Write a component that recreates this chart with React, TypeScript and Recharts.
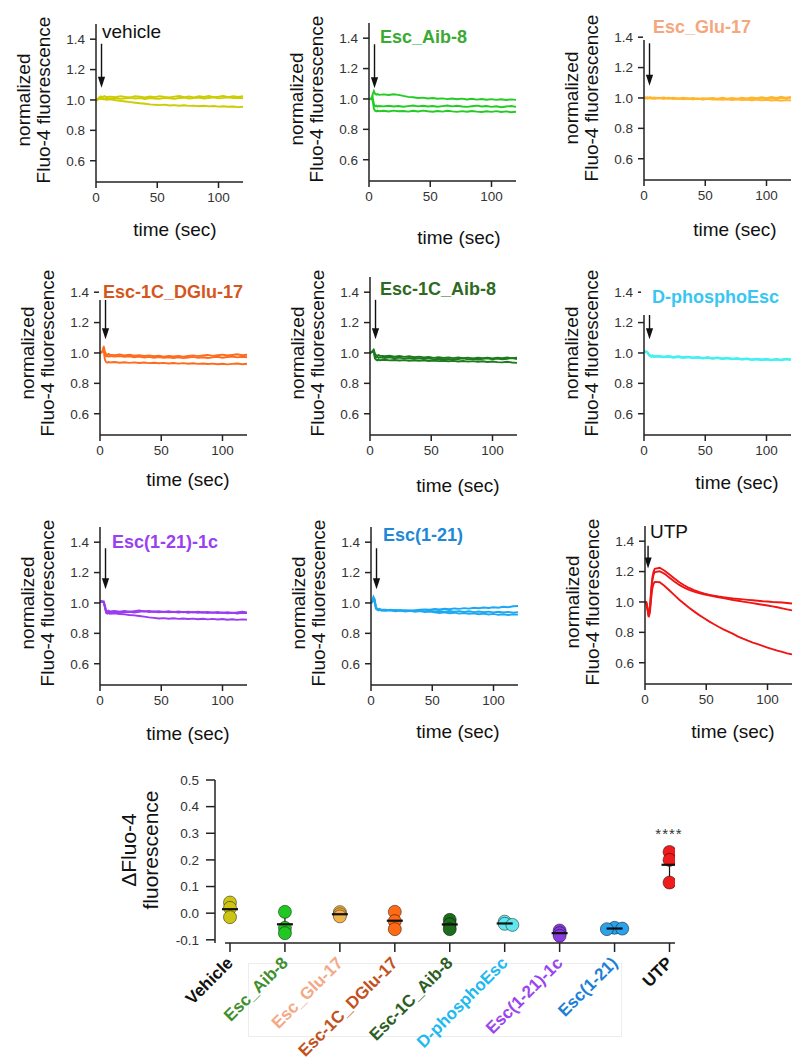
import React from "react";
import {
  LineChart,
  Line,
  XAxis,
  YAxis,
  ReferenceLine,
  ScatterChart,
  Scatter,
  ErrorBar,
} from "recharts";

// shared time base of every trace (sec)
const TIME = [
  0, 1, 2, 3, 4, 5, 6, 7, 8,
  12, 16, 20, 24, 28, 32, 36,
  40, 44, 48, 52, 56, 60, 64,
  68, 72, 76, 80, 84, 88, 92,
  96, 100, 104, 108, 112, 116, 120,
];

const VEHICLE_A = [
  1.0, 1.004, 1.012, 1.02, 1.024, 1.018, 1.022, 1.026, 1.02,
  1.022, 1.018, 1.025, 1.02, 1.016, 1.024, 1.021,
  1.017, 1.023, 1.019, 1.025, 1.02, 1.016, 1.022,
  1.026, 1.019, 1.023, 1.017, 1.024, 1.02, 1.026,
  1.018, 1.022, 1.027, 1.019, 1.024, 1.02, 1.025,
];
const VEHICLE_B = [
  1.0, 0.998, 1.006, 1.012, 1.008, 1.014, 1.01, 1.006, 1.012,
  1.008, 1.013, 1.007, 1.011, 1.015, 1.009, 1.012,
  1.006, 1.013, 1.01, 1.008, 1.014, 1.011, 1.007,
  1.013, 1.015, 1.009, 1.012, 1.016, 1.01, 1.013,
  1.017, 1.011, 1.014, 1.018, 1.012, 1.015, 1.011,
];
const VEHICLE_C = [
  1.0, 1.003, 1.008, 1.012, 1.006, 1.01, 1.004, 1.008, 1.002,
  1.004, 0.998, 0.994, 0.99, 0.986, 0.982, 0.978,
  0.975, 0.971, 0.968, 0.966, 0.969, 0.964, 0.966,
  0.962, 0.965, 0.961, 0.963, 0.959, 0.962, 0.958,
  0.96, 0.956, 0.959, 0.955, 0.957, 0.953, 0.955,
];

const AIB8_A = [
  1.0, 1.002, 1.0, 1.03, 1.052, 1.034, 1.028, 1.032, 1.027,
  1.03, 1.026, 1.031, 1.027, 1.02, 1.014, 1.011,
  1.006, 1.009, 1.003, 1.006, 1.001, 1.004, 0.999,
  1.003, 0.998, 1.002, 0.997, 1.001, 0.996, 1.0,
  0.995, 0.999, 0.994, 0.998, 0.993, 0.997, 0.994,
];
const AIB8_B = [
  1.0, 1.001, 0.999, 1.01, 0.965, 0.952, 0.956, 0.95, 0.954,
  0.951, 0.955, 0.95, 0.954, 0.949, 0.953, 0.957,
  0.951, 0.955, 0.95, 0.954, 0.949, 0.953, 0.957,
  0.951, 0.955, 0.95, 0.948, 0.952, 0.956, 0.95,
  0.954, 0.948, 0.952, 0.946, 0.95, 0.954, 0.948,
];
const AIB8_C = [
  1.0, 0.999, 1.001, 0.99, 0.935, 0.922, 0.918, 0.923, 0.919,
  0.922, 0.918, 0.923, 0.919, 0.921, 0.917, 0.922,
  0.918, 0.923, 0.919, 0.916, 0.921, 0.917, 0.922,
  0.918, 0.915, 0.92, 0.916, 0.921, 0.917, 0.914,
  0.919, 0.915, 0.92, 0.914, 0.918, 0.913, 0.916,
];

const GLU17_A = [
  1.0, 1.004, 0.998, 1.003, 0.999, 1.005, 1.0, 0.997, 1.003,
  0.998, 1.003, 0.997, 1.002, 0.996, 1.001, 0.995,
  1.0, 0.994, 0.999, 0.995, 1.0, 0.996, 1.001,
  0.995, 1.0, 0.996, 1.002, 0.997, 1.003, 0.998,
  1.005, 0.999, 1.006, 1.0, 1.008, 1.001, 1.006,
];
const GLU17_B = [
  1.0, 0.997, 1.002, 0.996, 1.001, 0.997, 1.002, 0.998, 0.994,
  0.999, 0.994, 0.998, 0.993, 0.997, 0.992, 0.996,
  0.991, 0.995, 0.99, 0.994, 0.989, 0.993, 0.988,
  0.992, 0.987, 0.991, 0.986, 0.99, 0.985, 0.989,
  0.984, 0.988, 0.983, 0.987, 0.982, 0.986, 0.983,
];
const GLU17_C = [
  1.0, 1.002, 0.999, 1.004, 0.998, 1.002, 0.996, 1.001, 0.997,
  1.001, 0.997, 1.002, 0.998, 0.994, 0.999, 0.995,
  0.991, 0.996, 0.992, 0.997, 0.993, 0.989, 0.994,
  0.99, 0.995, 0.991, 0.996, 0.992, 0.997, 0.993,
  0.998, 0.994, 1.0, 0.995, 1.001, 0.996, 1.002,
];

const DGLU17_A = [
  1.0, 1.006, 1.012, 1.042, 1.008, 0.992, 0.988, 0.994, 0.989,
  0.986, 0.99, 0.984, 0.988, 0.982, 0.986, 0.98,
  0.984, 0.978, 0.982, 0.976, 0.98, 0.977, 0.981,
  0.976, 0.98, 0.984, 0.979, 0.983, 0.987, 0.981,
  0.985, 0.989, 0.983, 0.987, 0.991, 0.985, 0.988,
];
const DGLU17_B = [
  1.0, 1.004, 1.008, 1.03, 0.985, 0.978, 0.982, 0.976, 0.98,
  0.976, 0.98, 0.974, 0.978, 0.972, 0.976, 0.97,
  0.974, 0.969, 0.973, 0.968, 0.972, 0.967, 0.971,
  0.966, 0.97, 0.974, 0.968, 0.972, 0.967, 0.971,
  0.975, 0.969, 0.973, 0.977, 0.971, 0.975, 0.972,
];
const DGLU17_C = [
  1.0, 1.003, 1.006, 1.02, 0.955, 0.94, 0.936, 0.941, 0.937,
  0.94, 0.936, 0.939, 0.935, 0.938, 0.934, 0.937,
  0.933, 0.936, 0.932, 0.935, 0.931, 0.934, 0.93,
  0.933, 0.929, 0.932, 0.928, 0.931, 0.927, 0.93,
  0.926, 0.929, 0.925, 0.928, 0.931, 0.926, 0.929,
];

const C1AIB8_A = [
  1.0, 1.006, 1.012, 1.022, 0.996, 0.985, 0.981, 0.986, 0.982,
  0.978, 0.982, 0.976, 0.98, 0.974, 0.978, 0.972,
  0.976, 0.97, 0.974, 0.968, 0.972, 0.967, 0.971,
  0.966, 0.97, 0.965, 0.969, 0.964, 0.968, 0.965,
  0.969, 0.964, 0.968, 0.965, 0.97, 0.966, 0.969,
];
const C1AIB8_B = [
  1.0, 1.004, 1.01, 1.015, 0.98, 0.97, 0.974, 0.968, 0.972,
  0.967, 0.971, 0.965, 0.969, 0.963, 0.967, 0.961,
  0.965, 0.96, 0.964, 0.958, 0.962, 0.957, 0.961,
  0.956, 0.96, 0.964, 0.958, 0.962, 0.957, 0.961,
  0.965, 0.959, 0.963, 0.958, 0.962, 0.966, 0.96,
];
const C1AIB8_C = [
  1.0, 1.003, 1.008, 1.012, 0.965, 0.955, 0.951, 0.956, 0.952,
  0.955, 0.951, 0.954, 0.95, 0.953, 0.949, 0.952,
  0.948, 0.951, 0.947, 0.95, 0.946, 0.949, 0.945,
  0.948, 0.944, 0.947, 0.943, 0.946, 0.942, 0.945,
  0.941, 0.944, 0.94, 0.938, 0.942, 0.937, 0.935,
];

const PHOSPHO_A = [
  1.01, 1.012, 1.008, 1.005, 0.992, 0.984, 0.98, 0.985, 0.978,
  0.982, 0.976, 0.98, 0.974, 0.978, 0.972, 0.976,
  0.97, 0.974, 0.968, 0.972, 0.966, 0.97, 0.964,
  0.968, 0.962, 0.966, 0.96, 0.964, 0.958, 0.962,
  0.957, 0.961, 0.955, 0.96, 0.956, 0.962, 0.958,
];
const PHOSPHO_B = [
  1.005, 1.008, 1.004, 1.0, 0.986, 0.978, 0.974, 0.979, 0.973,
  0.976, 0.971, 0.975, 0.969, 0.973, 0.967, 0.971,
  0.966, 0.97, 0.964, 0.968, 0.962, 0.966, 0.96,
  0.964, 0.958, 0.962, 0.956, 0.96, 0.954, 0.958,
  0.952, 0.957, 0.951, 0.956, 0.952, 0.958, 0.954,
];
const PHOSPHO_C = [
  1.008, 1.004, 1.01, 1.002, 0.99, 0.981, 0.977, 0.982, 0.976,
  0.979, 0.974, 0.978, 0.972, 0.976, 0.97, 0.974,
  0.968, 0.972, 0.966, 0.97, 0.964, 0.968, 0.962,
  0.966, 0.96, 0.964, 0.958, 0.962, 0.956, 0.96,
  0.955, 0.959, 0.953, 0.958, 0.954, 0.96, 0.956,
];

const E121C_A = [
  1.01, 1.012, 1.008, 1.01, 0.985, 0.95, 0.945, 0.949, 0.944,
  0.948, 0.943, 0.947, 0.942, 0.946, 0.95, 0.944,
  0.948, 0.942, 0.946, 0.941, 0.945, 0.94, 0.944,
  0.939, 0.943, 0.938, 0.942, 0.937, 0.941, 0.936,
  0.94, 0.935, 0.939, 0.934, 0.938, 0.942, 0.937,
];
const E121C_B = [
  1.008, 1.01, 1.006, 1.004, 0.975, 0.94, 0.936, 0.94, 0.935,
  0.939, 0.934, 0.938, 0.942, 0.937, 0.941, 0.946,
  0.94, 0.944, 0.939, 0.943, 0.938, 0.942, 0.937,
  0.941, 0.936, 0.94, 0.935, 0.939, 0.934, 0.938,
  0.933, 0.937, 0.932, 0.936, 0.931, 0.935, 0.933,
];
const E121C_C = [
  1.012, 1.008, 1.011, 1.006, 0.97, 0.935, 0.93, 0.934, 0.929,
  0.932, 0.927, 0.925, 0.921, 0.918, 0.914, 0.91,
  0.905, 0.902, 0.898, 0.9, 0.896, 0.899, 0.895,
  0.898, 0.894, 0.897, 0.893, 0.896, 0.892, 0.895,
  0.891, 0.894, 0.89, 0.893, 0.889, 0.892, 0.89,
];

const E121_A = [
  1.0, 1.01, 1.04, 1.025, 0.975, 0.962, 0.958, 0.962, 0.957,
  0.955, 0.951, 0.954, 0.95, 0.953, 0.949, 0.952,
  0.955, 0.958, 0.955, 0.96, 0.957, 0.962, 0.959,
  0.964, 0.961, 0.966, 0.963, 0.968, 0.965, 0.97,
  0.967, 0.972, 0.969, 0.975, 0.972, 0.978, 0.98,
];
const E121_B = [
  1.0, 1.006, 1.03, 1.015, 0.968, 0.958, 0.954, 0.958, 0.953,
  0.951, 0.955, 0.949, 0.953, 0.947, 0.951, 0.946,
  0.95, 0.945, 0.949, 0.944, 0.948, 0.943, 0.947,
  0.942, 0.946, 0.941, 0.945, 0.94, 0.944, 0.939,
  0.943, 0.938, 0.942, 0.937, 0.941, 0.936, 0.94,
];
const E121_C = [
  1.0, 1.004, 1.02, 1.008, 0.962, 0.955, 0.951, 0.955, 0.95,
  0.948, 0.952, 0.946, 0.95, 0.944, 0.948, 0.942,
  0.946, 0.94, 0.944, 0.938, 0.934, 0.938, 0.932,
  0.936, 0.93, 0.934, 0.928, 0.932, 0.926, 0.93,
  0.924, 0.928, 0.922, 0.926, 0.921, 0.925, 0.923,
];

const UTP_A = [
  1.0, 0.998, 0.96, 0.91, 0.96, 1.08, 1.16, 1.2, 1.218,
  1.225, 1.205, 1.18, 1.155, 1.13, 1.11, 1.092,
  1.078, 1.066, 1.056, 1.048, 1.042, 1.036, 1.031,
  1.027, 1.023, 1.02, 1.017, 1.014, 1.011, 1.008,
  1.005, 1.003, 1.0, 0.998, 0.996, 0.993, 0.99,
];
const UTP_B = [
  1.0, 0.999, 0.965, 0.915, 0.95, 1.06, 1.14, 1.18, 1.196,
  1.202, 1.185, 1.16, 1.135, 1.112, 1.095, 1.08,
  1.068, 1.058, 1.05, 1.043, 1.037, 1.031, 1.025,
  1.019, 1.013, 1.008, 1.002, 0.997, 0.992, 0.987,
  0.982, 0.977, 0.971, 0.965, 0.958, 0.951, 0.945,
];
const UTP_C = [
  1.0, 0.998, 0.95, 0.9, 0.93, 1.02, 1.09, 1.12, 1.132,
  1.13, 1.105, 1.075, 1.045, 1.015, 0.988, 0.962,
  0.938, 0.915, 0.894, 0.874, 0.855, 0.837, 0.82,
  0.805, 0.79, 0.772, 0.758, 0.745, 0.733, 0.722,
  0.711, 0.7, 0.69, 0.68, 0.671, 0.662, 0.655,
];

// summary (delta fluorescence) per treatment
const GROUP_LABELS = [
  "Vehicle",
  "Esc_Aib-8",
  "Esc_Glu-17",
  "Esc-1C_DGlu-17",
  "Esc-1C_Aib-8",
  "D-phosphoEsc",
  "Esc(1-21)-1c",
  "Esc(1-21)",
  "UTP",
];
const VEHICLE_PTS = [0.04, 0.02, -0.015];
const AIB8_PTS = [0.005, -0.055, -0.075];
const GLU17_PTS = [0.004, -0.004, -0.012];
const DGLU17_PTS = [0.005, -0.03, -0.06];
const C1AIB8_PTS = [-0.025, -0.042, -0.06];
const PHOSPHO_PTS = [-0.032, -0.04, -0.044];
const E121C_PTS = [-0.065, -0.075, -0.085];
const E121_PTS = [-0.055, -0.058, -0.06];
const UTP_PTS = [0.23, 0.2, 0.115];
const GROUP_POINTS = [
  VEHICLE_PTS, AIB8_PTS, GLU17_PTS, DGLU17_PTS, C1AIB8_PTS,
  PHOSPHO_PTS, E121C_PTS, E121_PTS, UTP_PTS,
];
const DELTA_TICKS = [-0.1, 0, 0.1, 0.2, 0.3, 0.4, 0.5];

const GROUP_FILL = [
  "#cdc515", "#22c822", "#f2b24a", "#ff6a14", "#1c6c1c",
  "#5fe6ee", "#8b3ae2", "#2aa2ec", "#ee1c1c",
];
const GROUP_TEXT = [
  "#111", "#3f8f2f", "#f4a987", "#c2521c", "#2b5e22",
  "#22b8f0", "#9b45f0", "#1d7fd6", "#111",
];

const PANELS = [
  { title: "vehicle", bold: false, titleColor: "#111", color: "#cccc00", traces: [VEHICLE_A, VEHICLE_B, VEHICLE_C], arrow: [1.37, 1.08] },
  { title: "Esc_Aib-8", bold: true, titleColor: "#3aaa32", color: "#22cc22", traces: [AIB8_A, AIB8_B, AIB8_C], arrow: [1.36, 1.07] },
  { title: "Esc_Glu-17", bold: true, titleColor: "#f5a67c", color: "#ffb52e", traces: [GLU17_A, GLU17_B, GLU17_C], arrow: [1.36, 1.08] },
  { title: "Esc-1C_DGlu-17", bold: true, titleColor: "#d5561c", color: "#ff6b1c", traces: [DGLU17_A, DGLU17_B, DGLU17_C], arrow: [1.35, 1.09] },
  { title: "Esc-1C_Aib-8", bold: true, titleColor: "#2f6a22", color: "#1d7a1d", traces: [C1AIB8_A, C1AIB8_B, C1AIB8_C], arrow: [1.35, 1.09] },
  { title: "D-phosphoEsc", bold: true, titleColor: "#38c6f2", color: "#44f0f0", traces: [PHOSPHO_A, PHOSPHO_B, PHOSPHO_C], arrow: [1.25, 1.09] },
  { title: "Esc(1-21)-1c", bold: true, titleColor: "#9a40f2", color: "#9a3cf0", traces: [E121C_A, E121C_B, E121C_C], arrow: [1.36, 1.09] },
  { title: "Esc(1-21)", bold: true, titleColor: "#1e88d8", color: "#1ca8f2", traces: [E121_A, E121_B, E121_C], arrow: [1.36, 1.09] },
  { title: "UTP", bold: false, titleColor: "#111", color: "#f01515", traces: [UTP_A, UTP_B, UTP_C], arrow: [1.37, 1.22] },
];

// page layout of the small panels (pixels)
const LAYOUT = [
  { x0: 96, y1: 100, tx: 102, ty: 32, sx: 175, sy: 230, arrowT: 4.5 },
  { x0: 369, y1: 99, tx: 380, ty: 37, sx: 459, sy: 238, arrowT: 4.5 },
  { x0: 644, y1: 98, tx: 653, ty: 27, sx: 735, sy: 230, arrowT: 4.5 },
  { x0: 100, y1: 353, tx: 103, ty: 292, sx: 188, sy: 480, arrowT: 4.5 },
  { x0: 370, y1: 353, tx: 380, ty: 289, sx: 458, sy: 486, arrowT: 4.5 },
  { x0: 644, y1: 353, tx: 652, ty: 297, sx: 737, sy: 483, arrowT: 4.5 },
  { x0: 100, y1: 603, tx: 112, ty: 542, sx: 188, sy: 734, arrowT: 4.5 },
  { x0: 371, y1: 603, tx: 383, ty: 535, sx: 458, sy: 732, arrowT: 4.5 },
  { x0: 645, y1: 602, tx: 650, ty: 532, sx: 733, sy: 732, arrowT: 2.5 },
];
// white boxes where a title hides the top of its axis
const COVERS = [
  { left: 643, top: 10, width: 125, height: 30 },
  { left: 98.5, top: 268, width: 150, height: 32 },
  { left: 641, top: 268, width: 150, height: 47 },
];

const FONT = "'Liberation Sans', Arial, Helvetica, sans-serif";
const PW = 147;
const PH = 158;
const YW = 45;
const MT = 4;
const XH = 34;

const Arrow = (props: any) => {
  const { x1, y1, x2, y2 } = props;
  const top = Math.min(y1, y2);
  const tip = Math.max(y1, y2);
  const head = 11;
  return (
    <g>
      <line x1={x1} y1={top} x2={x2} y2={tip - head + 1} stroke="#111" strokeWidth={1.4} />
      <path d={`M${x2 - 3.6},${tip - head} L${x2 + 3.6},${tip - head} L${x2},${tip} Z`} fill="#111" />
    </g>
  );
};

const VLabel = ({ cx, cy, lines, size, gap }: any) => (
  <div
    style={{
      position: "absolute",
      left: cx,
      top: cy,
      transform: "translate(-50%, -50%) rotate(-90deg)",
      textAlign: "center",
      whiteSpace: "nowrap",
      fontSize: size,
      lineHeight: `${gap}px`,
      color: "#111",
    }}
  >
    {lines.map((l: string) => (
      <div key={l}>{l}</div>
    ))}
  </div>
);

const axisStroke = { stroke: "#222", strokeWidth: 1.5 };

const TracePanel = ({ p, l }: any) => {
  const rows = TIME.map((t, i) => ({
    t,
    a: p.traces[0][i],
    b: p.traces[1][i],
    c: p.traces[2][i],
  }));
  return (
    <div style={{ position: "absolute", left: l.x0 - YW, top: l.y1 - 76 - MT }}>
      <LineChart
        width={YW + PW + 2}
        height={MT + PH + XH}
        data={rows}
        margin={{ top: MT, right: 2, bottom: 0, left: 0 }}
      >
        <XAxis
          dataKey="t"
          type="number"
          domain={[0, 120]}
          ticks={[0, 50, 100]}
          height={XH}
          tickSize={6}
          tickMargin={4}
          axisLine={axisStroke}
          tickLine={axisStroke}
          tick={{ fill: "#333", fontSize: 13.5 }}
        />
        <YAxis
          type="number"
          domain={[0.46, 1.5]}
          ticks={[0.6, 0.8, 1.0, 1.2, 1.4]}
          tickFormatter={(v: number) => v.toFixed(1)}
          width={YW}
          tickSize={6}
          tickMargin={5}
          axisLine={axisStroke}
          tickLine={axisStroke}
          tick={{ fill: "#333", fontSize: 13.5 }}
        />
        {["a", "b", "c"].map((k) => (
          <Line
            key={k}
            dataKey={k}
            type="linear"
            stroke={p.color}
            strokeWidth={1.9}
            dot={false}
            isAnimationActive={false}
          />
        ))}
        <ReferenceLine
          segment={[
            { x: l.arrowT, y: p.arrow[0] },
            { x: l.arrowT, y: p.arrow[1] },
          ]}
          shape={Arrow}
        />
      </LineChart>
    </div>
  );
};

// spread points of one group sideways when their values nearly coincide
const swarm = (vals: number[], gap = 0.007, step = 0.14) => {
  const placed: { y: number; dx: number }[] = [];
  return vals.map((v) => {
    const tries = [0, step, -step, 2 * step, -2 * step];
    const dx =
      tries.find((d) => placed.every((q) => q.dx !== d || Math.abs(q.y - v) >= gap)) ?? 0;
    placed.push({ y: v, dx });
    return dx;
  });
};

const mean = (v: number[]) => v.reduce((s, x) => s + x, 0) / v.length;
const sd = (v: number[]) => {
  const m = mean(v);
  return Math.sqrt(v.reduce((s, x) => s + (x - m) * (x - m), 0) / (v.length - 1));
};

const Dot = (props: any) => {
  const { cx, cy, fill } = props;
  return <circle cx={cx} cy={cy} r={6.5} fill={fill} stroke="rgba(0,0,0,0.45)" strokeWidth={1} />;
};

const MeanMark = (props: any) => {
  const { cx, cy } = props;
  return <line x1={cx - 8} y1={cy} x2={cx + 8} y2={cy} stroke="#111" strokeWidth={2.2} />;
};

const GroupTick = (props: any) => {
  const { x, y, payload } = props;
  const i = payload.value;
  const ax = x + 4;
  const ay = y + 10;
  return (
    <text
      x={ax}
      y={ay}
      transform={`rotate(-45 ${ax} ${ay})`}
      textAnchor="end"
      fill={GROUP_TEXT[i]}
      fontWeight="bold"
      fontSize={17}
    >
      {GROUP_LABELS[i]}
    </text>
  );
};

const SummaryChart = () => {
  const summary = GROUP_POINTS.map((v, i) => ({ x: i, y: mean(v), sd: sd(v) }));
  return (
    <div style={{ position: "absolute", left: 155, top: 772 }}>
      <ScatterChart width={530} height={8 + 163 + 120} margin={{ top: 8, right: 10, bottom: 0, left: 0 }}>
        <XAxis
          dataKey="x"
          type="number"
          domain={[-0.273, 8.1]}
          ticks={[0, 1, 2, 3, 4, 5, 6, 7, 8]}
          height={120}
          tickSize={9}
          tickMargin={2}
          axisLine={false}
          tickLine={axisStroke}
          tick={<GroupTick />}
          allowDataOverflow
        />
        <YAxis
          dataKey="y"
          type="number"
          domain={[-0.112, 0.5]}
          ticks={DELTA_TICKS}
          tickFormatter={(v: number) => v.toFixed(1)}
          width={60}
          tickSize={9}
          tickMargin={7}
          axisLine={axisStroke}
          tickLine={axisStroke}
          tick={{ fill: "#333", fontSize: 13.5 }}
          allowDataOverflow
        />
        <ReferenceLine
          segment={[
            { x: -0.09, y: -0.112 },
            { x: 8.1, y: -0.112 },
          ]}
          stroke="#222"
          strokeWidth={1.5}
        />
        {GROUP_POINTS.map((vals, i) => {
          const dx = swarm(vals);
          return (
            <Scatter
              key={GROUP_LABELS[i]}
              name={GROUP_LABELS[i]}
              data={vals.map((v, j) => ({ x: i + dx[j], y: v }))}
              fill={GROUP_FILL[i]}
              shape={<Dot />}
              isAnimationActive={false}
            />
          );
        })}
        <Scatter data={summary} shape={<MeanMark />} isAnimationActive={false}>
          <ErrorBar dataKey="sd" direction="y" width={4.5} stroke="#111" strokeWidth={1.2} />
        </Scatter>
      </ScatterChart>
    </div>
  );
};

export default function App() {
  return (
    <div
      style={{
        position: "absolute",
        left: 0,
        top: 0,
        width: 794,
        height: 1062,
        overflow: "hidden",
        background: "#fff",
        fontFamily: FONT,
      }}
    >
      <div
        style={{
          position: "absolute",
          left: 248,
          top: 963,
          width: 372,
          height: 72,
          border: "1px solid #ededed",
        }}
      />
      {PANELS.map((p, i) => (
        <TracePanel key={p.title} p={p} l={LAYOUT[i]} />
      ))}
      {COVERS.map((c, i) => (
        <div key={i} style={{ position: "absolute", background: "#fff", ...c }} />
      ))}
      {PANELS.map((p, i) => {
        const l = LAYOUT[i];
        return (
          <React.Fragment key={p.title}>
            <div
              style={{
                position: "absolute",
                left: l.tx,
                top: l.ty - 11,
                lineHeight: "22px",
                whiteSpace: "nowrap",
                fontSize: p.bold ? 18 : 19,
                fontWeight: p.bold ? "bold" : "normal",
                color: p.titleColor,
              }}
            >
              {p.title}
            </div>
            <VLabel
              cx={l.x0 - 62}
              cy={l.y1}
              lines={["normalized", "Fluo-4 fluorescence"]}
              size={19}
              gap={20}
            />
            <div
              style={{
                position: "absolute",
                left: l.sx,
                top: l.sy,
                transform: "translate(-50%, -50%)",
                whiteSpace: "nowrap",
                fontSize: 19,
                color: "#111",
              }}
            >
              time (sec)
            </div>
          </React.Fragment>
        );
      })}
      <SummaryChart />
      <VLabel cx={140} cy={850} lines={["ΔFluo-4", "fluorescence"]} size={21} gap={22} />
      <div
        style={{
          position: "absolute",
          left: 669,
          top: 833,
          transform: "translate(-50%, -50%)",
          fontSize: 15,
          color: "#333",
          letterSpacing: 1,
        }}
      >
        ****
      </div>
    </div>
  );
}
